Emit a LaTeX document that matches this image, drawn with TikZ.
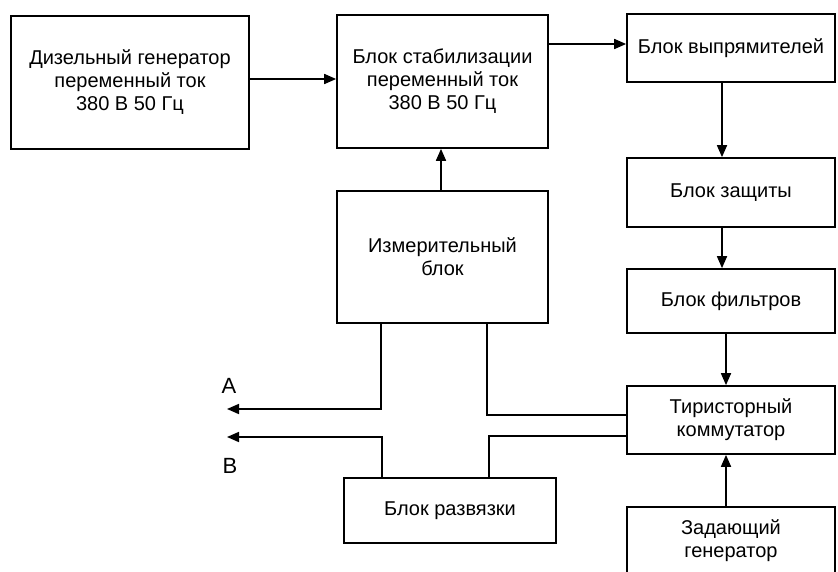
\documentclass[tikz,border=0pt]{standalone}
\usepackage{fontspec}
\setmainfont{Liberation Sans}
\usetikzlibrary{arrows.meta}

\begin{document}
\begin{tikzpicture}[x=1pt,y=-1pt,
  block/.style={draw, line width=1.7pt, rectangle, inner sep=0pt, align=center,
                font={\fontsize{20}{23}\selectfont}},
  link/.style={line width=1.7pt},
  arr/.style={link, -{Triangle[length=12pt,width=10pt]}},
  tag/.style={font={\fontsize{22}{24}\selectfont}, inner sep=0pt}]

\useasboundingbox (0,0) rectangle (838,572);
\clip (0,0) rectangle (838,572);

% left and middle column
\node[block, minimum width=238pt, minimum height=133pt] (diesel) at (130,82.5)
  {Дизельный генератор\\переменный ток\\380 В 50 Гц};
\node[block, minimum width=211pt, minimum height=133pt] (stab) at (442.5,81.5)
  {Блок стабилизации\\переменный ток\\380 В 50 Гц};
\node[block, minimum width=211pt, minimum height=132pt] (meas) at (442.5,257)
  {Измерительный\\блок};
\node[block, minimum width=212pt, minimum height=65pt] (razv) at (450,510.5)
  {Блок развязки};

% right column
\node[block, minimum width=208pt, minimum height=68pt] (vypr) at (731,48)
  {Блок выпрямителей};
\node[block, minimum width=208pt, minimum height=69pt] (zasch) at (731,192.5)
  {Блок защиты};
\node[block, minimum width=208pt, minimum height=64pt] (filt) at (731,301)
  {Блок фильтров};
\node[block, minimum width=208pt, minimum height=68pt] (thyr) at (731,420)
  {Тиристорный\\коммутатор};
\node[block, minimum width=208pt, minimum height=67pt] (zad) at (731,540.5)
  {Задающий\\генератор};

% output ends
\coordinate (Aend) at (227,409);
\coordinate (Bend) at (227,437);
\node[tag] (labA) at (229,386) {A};
\node[tag] (labB) at (230,466) {B};

% power path
\draw[arr] ([yshift=3.5pt]diesel.east) -- ([yshift=3.5pt]diesel.east -| stab.west);
\draw[arr] ([yshift=37.5pt]stab.east) -- ([yshift=37.5pt]stab.east -| vypr.west);
\draw[arr] ([xshift=-9pt]vypr.south) -- ([xshift=-9pt]vypr.south |- zasch.north);
\draw[arr] ([xshift=-9pt]zasch.south) -- ([xshift=-9pt]zasch.south |- filt.north);
\draw[arr] ([xshift=-5pt]filt.south) -- ([xshift=-5pt]filt.south |- thyr.north);
\draw[arr] ([xshift=-5pt]zad.north) -- ([xshift=-5pt]zad.north |- thyr.south);

% measurement and control
\draw[arr] ([xshift=-1.5pt]meas.north) -- ([xshift=-1.5pt]meas.north |- stab.south);
\draw[arr] ([xshift=-61.5pt]meas.south) |- (Aend);
\draw[link] ([xshift=44.5pt]meas.south) |- ([yshift=5pt]thyr.west);
\draw[link] ([yshift=-16pt]thyr.west) -| ([xshift=39pt]razv.north);
\draw[arr] ([xshift=-68pt]razv.north) |- (Bend);

\end{tikzpicture}
\end{document}
